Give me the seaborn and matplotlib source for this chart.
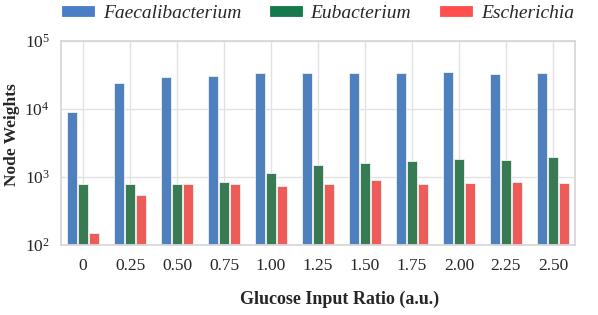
import pandas as pd
import matplotlib
matplotlib.use("Agg")
import matplotlib.pyplot as plt
import seaborn as sns

# data
ratios = ["0", "0.25", "0.50", "0.75", "1.00", "1.25", "1.50", "1.75", "2.00", "2.25", "2.50"]
faecalibacterium = [8900, 24000, 30000, 31000, 33700, 33700, 33700, 33700, 34800, 32500, 33700]
eubacterium = [800, 800, 800, 850, 1160, 1480, 1580, 1710, 1850, 1790, 1940]
escherichia = [150, 545, 800, 800, 735, 800, 890, 800, 825, 850, 825]
genera = ["Faecalibacterium", "Eubacterium", "Escherichia"]
bar_colors = ["#4F80BE", "#387A52", "#EE5C5A"]
legend_colors = ["#4A7FC7", "#147A4B", "#FF4F4F"]

rows = []
for g, vals in zip(genera, [faecalibacterium, eubacterium, escherichia]):
    for r, v in zip(ratios, vals):
        rows.append({"ratio": r, "genus": g, "weight": v})
df = pd.DataFrame(rows)

sns.set_theme(style="whitegrid")
plt.rcParams["font.family"] = ["Liberation Serif", "DejaVu Serif"]
plt.rcParams["mathtext.fontset"] = "custom"
plt.rcParams["mathtext.rm"] = "Liberation Serif"
plt.rcParams["mathtext.it"] = "Liberation Serif:italic"

fig, ax = plt.subplots(figsize=(5.98, 3.15), dpi=100)
fig.subplots_adjust(left=61 / 598, right=575 / 598, top=1 - 41 / 315, bottom=1 - 245 / 315)

sns.barplot(data=df, x="ratio", y="weight", hue="genus", order=ratios,
            hue_order=genera, palette=bar_colors, saturation=1, width=0.7, gap=0.12,
            edgecolor="#f2f2f2", linewidth=0.6, ax=ax)

ax.set_yscale("log")
ax.set_ylim(100, 1e5)
ax.set_xlim(-0.47, len(ratios) - 0.53)

ax.grid(True, color="#e2e2e2", linewidth=1)
for s in ax.spines.values():
    s.set_color("#d8d8d8")
    s.set_linewidth(1.3)
ax.tick_params(axis="x", labelsize=12.5, length=0, pad=9)
ax.tick_params(axis="y", labelsize=12.5, length=0, pad=8)

ax.set_xlabel("Glucose Input Ratio (a.u.)", fontsize=13, fontweight="bold")
ax.xaxis.set_label_coords(0.541, -0.225)
ax.set_ylabel("Node Weights", fontsize=12.5, fontweight="bold")
ax.yaxis.set_label_coords(-0.080, 0.54)

leg = ax.legend(loc="center", bbox_to_anchor=(0.5, 1.135), ncol=3, frameon=False,
                prop={"style": "italic", "size": 14}, handlelength=1.65, handleheight=0.46,
                columnspacing=1.5, handletextpad=0.43, borderaxespad=0, borderpad=0)
for h, c in zip(leg.legend_handles, legend_colors):
    h.set_facecolor(c)
    h.set_edgecolor(c)
    h.set_alpha(1)

fig.savefig("out.png", dpi=100)
